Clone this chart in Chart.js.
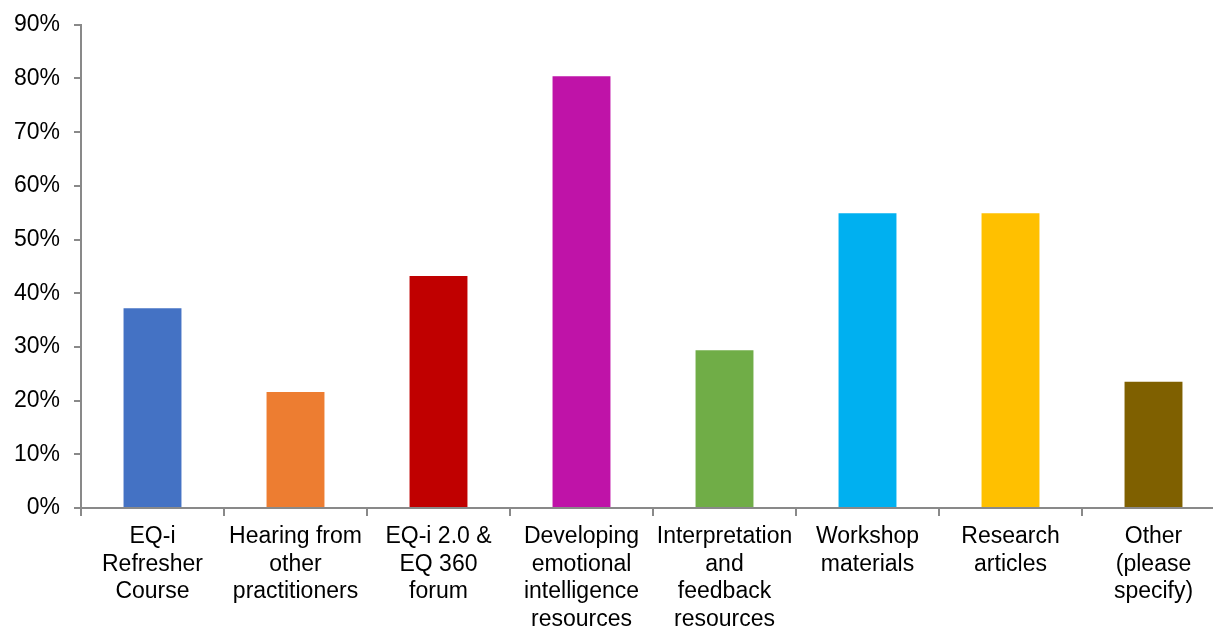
<!DOCTYPE html>
<html>
<head>
<meta charset="utf-8">
<script src="https://cdn.jsdelivr.net/npm/chart.js@4/dist/chart.umd.min.js"></script>
<style>
  html, body { margin: 0; padding: 0; background: #ffffff; }
  #wrap { width: 1213px; height: 629px; overflow: hidden; position: relative; }
  #box { position: absolute; left: 0; top: -3px; width: 1240px; height: 650px; }
</style>
</head>
<body>
<div id="wrap"><div id="box"><canvas id="c"></canvas></div></div>
<script>
// Survey resource categories (multi-line labels)
const categories = [
  ["EQ-i", "Refresher", "Course"],
  ["Hearing from", "other", "practitioners"],
  ["EQ-i 2.0 &", "EQ 360", "forum"],
  ["Developing", "emotional", "intelligence", "resources"],
  ["Interpretation", "and", "feedback", "resources"],
  ["Workshop", "materials"],
  ["Research", "articles"],
  ["Other", "(please", "specify)"]
];
// Share of respondents, percent
const shares = [37.2, 21.6, 43.2, 80.4, 29.4, 54.9, 54.9, 23.5];
const barColors = ["#4472C4", "#ED7D31", "#C00000", "#BF13A8", "#70AD47", "#00B0F0", "#FFC000", "#7F6000"];
const yTicks = [0, 10, 20, 30, 40, 50, 60, 70, 80, 90];

const axisGrey = "#898989";
const font = { family: "'Liberation Sans', Arial, sans-serif", size: 23 };

new Chart(document.getElementById("c"), {
  type: "bar",
  data: {
    labels: categories,
    datasets: [{
      data: shares,
      backgroundColor: barColors,
      borderWidth: 0,
      barPercentage: 0.405,
      categoryPercentage: 1.0
    }]
  },
  options: {
    responsive: true,
    maintainAspectRatio: false,
    animation: false,
    devicePixelRatio: 1,
    layout: { padding: { left: 0, right: 15, top: 21, bottom: 0 } },
    plugins: { legend: { display: false }, tooltip: { enabled: false } },
    scales: {
      x: {
        offset: true,
        grid: {
          display: true,
          offset: true,
          drawOnChartArea: false,
          drawTicks: true,
          tickLength: 8,
          color: axisGrey,
          lineWidth: 2
        },
        border: { display: true, color: axisGrey, width: 2 },
        ticks: {
          color: "#000000",
          font: font,
          padding: 7,
          maxRotation: 0,
          minRotation: 0,
          autoSkip: false
        },
        afterFit: (s) => { s.height = 139; }
      },
      y: {
        min: 0,
        max: 90,
        afterBuildTicks: (s) => { s.ticks = yTicks.map(v => ({ value: v })); },
        grid: {
          display: true,
          drawOnChartArea: false,
          drawTicks: true,
          tickLength: 7,
          color: axisGrey,
          lineWidth: 2
        },
        border: { display: true, color: axisGrey, width: 2 },
        ticks: {
          color: "#000000",
          font: font,
          padding: 14,
          callback: (v) => v + "%"
        },
        afterFit: (s) => { s.width = 81; }
      }
    }
  }
});
</script>
</body>
</html>
